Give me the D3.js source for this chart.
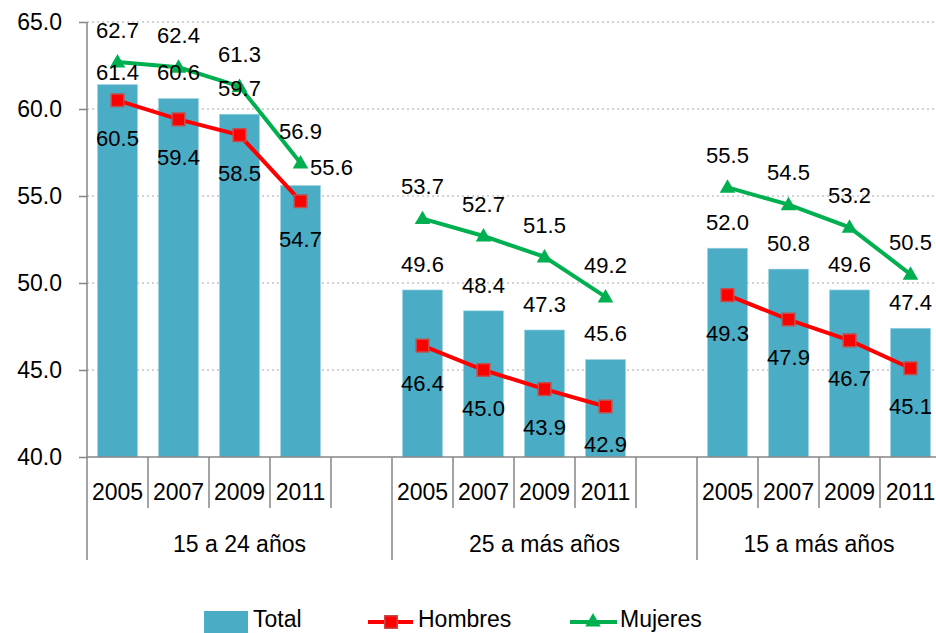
<!DOCTYPE html>
<html>
<head>
<meta charset="utf-8">
<script src="https://cdn.jsdelivr.net/npm/d3@7"></script>
<style>
  body { margin: 0; background: #fff; }
  text { font-family: "Liberation Sans", Arial, sans-serif; fill: #000; }
</style>
</head>
<body>
<script>
// chart data
const groups = ["15 a 24 años", "25 a más años", "15 a más años"];
const years = ["2005", "2007", "2009", "2011"];
const total   = [[61.4, 60.6, 59.7, 55.6], [49.6, 48.4, 47.3, 45.6], [52.0, 50.8, 49.6, 47.4]];
const hombres = [[60.5, 59.4, 58.5, 54.7], [46.4, 45.0, 43.9, 42.9], [49.3, 47.9, 46.7, 45.1]];
const mujeres = [[62.7, 62.4, 61.3, 56.9], [53.7, 52.7, 51.5, 49.2], [55.5, 54.5, 53.2, 50.5]];
const yTicks = [40, 45, 50, 55, 60, 65];

// a couple of labels were moved by hand in the original
const totalNudge = { "0-0": [0, 14], "0-3": [31, 8] };

const W = 936, H = 633;
const plotLeft = 87, plotTop = 22, plotBottom = 457;
const slotW = 61;

// one slot per year plus an empty one between groups
const slots = [];
groups.forEach((g, gi) => {
  years.forEach(yr => slots.push(gi + "|" + yr));
  if (gi < groups.length - 1) slots.push(gi + "|gap");
});

const x = d3.scaleBand().domain(slots).range([plotLeft, plotLeft + slots.length * slotW]);
const y = d3.scaleLinear().domain([40, 65]).range([plotBottom, plotTop]);
const cx = (gi, yi) => x(gi + "|" + years[yi]) + x.bandwidth() / 2;

const svg = d3.select("body").append("svg")
  .attr("width", W).attr("height", H);

// gridlines
svg.append("g").selectAll("line")
  .data(yTicks.filter(d => d > 40))
  .join("line")
  .attr("x1", plotLeft).attr("x2", W)
  .attr("y1", d => y(d)).attr("y2", d => y(d))
  .attr("stroke", "#a6a6a6").attr("stroke-width", 1)
  .attr("stroke-dasharray", "2,3");

// bars
const barW = x.bandwidth() * 0.655;
groups.forEach((g, gi) => {
  svg.append("g").selectAll("rect")
    .data(total[gi])
    .join("rect")
    .attr("x", (d, i) => cx(gi, i) - barW / 2)
    .attr("y", d => y(d))
    .attr("width", barW)
    .attr("height", d => plotBottom - y(d))
    .attr("fill", "#4bacc6")
    .attr("stroke", "#9ed3e0").attr("stroke-width", 0.6);
});

// y axis
const yAxis = svg.append("g")
  .attr("transform", "translate(" + plotLeft + ",0)")
  .call(d3.axisLeft(y).tickValues(yTicks).tickFormat(d3.format(".1f")).tickSize(8).tickPadding(17));
yAxis.select(".domain").remove();
yAxis.selectAll(".tick line").attr("stroke", "#868686").attr("stroke-width", 1.5);
yAxis.selectAll(".tick text")
  .attr("font-size", 23).attr("font-family", "Liberation Sans, Arial, sans-serif").attr("fill", "#000");

// axis lines
const axisColor = "#868686";
svg.append("line")
  .attr("x1", plotLeft).attr("x2", plotLeft).attr("y1", plotTop).attr("y2", 560)
  .attr("stroke", axisColor).attr("stroke-width", 1.5);
svg.append("line")
  .attr("x1", plotLeft).attr("x2", W).attr("y1", plotBottom).attr("y2", plotBottom)
  .attr("stroke", axisColor).attr("stroke-width", 1.5);

// category ticks: short after each year, long at group edges
const xTicks = svg.append("g");
groups.forEach((g, gi) => {
  years.forEach((yr, yi) => {
    const bx = x(gi + "|" + yr) + x.bandwidth();
    const last = yi === years.length - 1 && gi === groups.length - 1;
    xTicks.append("line")
      .attr("x1", bx).attr("x2", bx).attr("y1", plotBottom).attr("y2", last ? 560 : 508)
      .attr("stroke", axisColor).attr("stroke-width", 1.5);
  });
  if (gi < groups.length - 1) {
    const ex = x(gi + "|gap") + x.bandwidth();
    xTicks.append("line")
      .attr("x1", ex).attr("x2", ex).attr("y1", plotBottom).attr("y2", 560)
      .attr("stroke", axisColor).attr("stroke-width", 1.5);
  }
});

// year and group labels
groups.forEach((g, gi) => {
  years.forEach((yr, yi) => {
    svg.append("text")
      .attr("x", cx(gi, yi)).attr("y", 500)
      .attr("text-anchor", "middle").attr("font-size", 23)
      .text(yr);
  });
  const n = gi < groups.length - 1 ? 5 : 4;
  const gx = x(gi + "|" + years[0]) + (n * x.bandwidth()) / 2;
  svg.append("text")
    .attr("x", gx).attr("y", 552)
    .attr("text-anchor", "middle").attr("font-size", 23)
    .text(g);
});

// lines + markers
const line = d3.line().x(d => d[0]).y(d => d[1]);
const square = d3.symbol().type(d3.symbolSquare).size(160);
const triangle = d3.symbol().type(d3.symbolTriangle).size(105);

groups.forEach((g, gi) => {
  const hp = hombres[gi].map((v, i) => [cx(gi, i), y(v)]);
  const mp = mujeres[gi].map((v, i) => [cx(gi, i), y(v)]);

  svg.append("path").attr("d", line(hp))
    .attr("fill", "none").attr("stroke", "#ff0000").attr("stroke-width", 4);
  svg.append("path").attr("d", line(mp))
    .attr("fill", "none").attr("stroke", "#00b050").attr("stroke-width", 4);

  svg.append("g").selectAll("path").data(hp).join("path")
    .attr("transform", d => "translate(" + d[0] + "," + d[1] + ")")
    .attr("d", square)
    .attr("fill", "#ff0000").attr("stroke", "#c0504d").attr("stroke-width", 1.5);
  svg.append("g").selectAll("path").data(mp).join("path")
    .attr("transform", d => "translate(" + d[0] + "," + (d[1] + 1) + ")")
    .attr("d", triangle)
    .attr("fill", "#00b050");
});

// data labels
const fmt = d3.format(".1f");
groups.forEach((g, gi) => {
  total[gi].forEach((v, i) => {
    const n = totalNudge[gi + "-" + i] || [0, 0];
    svg.append("text")
      .attr("x", cx(gi, i) + n[0]).attr("y", y(v) - 26 + n[1]).attr("dy", "0.35em")
      .attr("text-anchor", "middle").attr("font-size", 22).text(fmt(v));
  });
  hombres[gi].forEach((v, i) => {
    svg.append("text")
      .attr("x", cx(gi, i)).attr("y", y(v) + 38).attr("dy", "0.35em")
      .attr("text-anchor", "middle").attr("font-size", 22).text(fmt(v));
  });
  mujeres[gi].forEach((v, i) => {
    svg.append("text")
      .attr("x", cx(gi, i)).attr("y", y(v) - 32).attr("dy", "0.35em")
      .attr("text-anchor", "middle").attr("font-size", 22).text(fmt(v));
  });
});

// legend
const lg = svg.append("g");
lg.append("rect").attr("x", 204).attr("y", 611).attr("width", 44).attr("height", 22).attr("fill", "#4bacc6");
lg.append("text").attr("x", 253).attr("y", 627).attr("font-size", 23).text("Total");

lg.append("line").attr("x1", 368).attr("x2", 413).attr("y1", 622).attr("y2", 622)
  .attr("stroke", "#ff0000").attr("stroke-width", 4);
lg.append("path").attr("transform", "translate(391,622)").attr("d", square)
  .attr("fill", "#ff0000").attr("stroke", "#c0504d").attr("stroke-width", 1.5);
lg.append("text").attr("x", 418).attr("y", 627).attr("font-size", 23).text("Hombres");

lg.append("line").attr("x1", 570).attr("x2", 617).attr("y1", 622).attr("y2", 622)
  .attr("stroke", "#00b050").attr("stroke-width", 4);
lg.append("path").attr("transform", "translate(593,622)").attr("d", triangle)
  .attr("fill", "#00b050");
lg.append("text").attr("x", 620).attr("y", 627).attr("font-size", 23).text("Mujeres");
</script>
</body>
</html>
